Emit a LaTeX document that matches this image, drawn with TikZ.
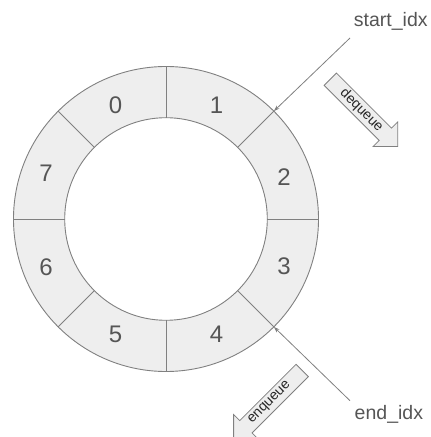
\documentclass[tikz,border=0pt]{standalone}
\usepackage{fontspec}
\setmainfont{Liberation Sans}
\usetikzlibrary{arrows.meta,calc}
\definecolor{ringfill}{HTML}{EEEEEE}
\definecolor{ringline}{HTML}{808080}
\definecolor{txt}{HTML}{555555}
\tikzset{
  x=1pt, y=1pt,
  ringedge/.style={draw=ringline, line width=0.9pt},
  digit/.style={text=txt, font=\fontsize{24}{26}\selectfont, inner sep=0pt},
  idxlabel/.style={text=txt, font=\fontsize{19.5}{22}\selectfont, inner sep=0pt, anchor=base},
  pointer/.style={draw=ringline, line width=0.8pt, -{Stealth[length=6pt,width=4pt]}},
  blockarrow/.style={draw=ringline, fill=ringfill, line width=0.8pt, line join=miter},
  arrowtext/.style={text=black!85, font=\fontsize{14}{16}\selectfont, inner sep=0pt}
}
\begin{document}
\begin{tikzpicture}
\useasboundingbox (0,0) rectangle (431,437);
\clip (0,0) rectangle (431,437);
\coordinate (c) at (166,218);
% ring
\fill[ringfill, even odd rule] (c) circle (152.5) (c) circle (101.3);
\draw[ringedge] (c) circle (152.5);
\draw[ringedge] (c) circle (101.3);
\foreach \a in {0,45,...,315}{
  \draw[ringedge] ($(c)+(\a:101.3)$) -- ($(c)+(\a:152.5)$);
}
% digits
\node[digit] (d0) at ($(c)+(-50.5,114)$) {0};
\node[digit] (d1) at ($(c)+(50.5,114)$) {1};
\node[digit] (d2) at ($(c)+(118,41.5)$) {2};
\node[digit] (d3) at ($(c)+(118,-47.5)$) {3};
\node[digit] (d4) at ($(c)+(50.5,-115)$) {4};
\node[digit] (d5) at ($(c)+(-50.5,-115)$) {5};
\node[digit] (d6) at ($(c)+(-120,-48.5)$) {6};
\node[digit] (d7) at ($(c)+(-120,46)$) {7};
% index labels and pointers
\node[idxlabel] (start) at (390.8,410.3) {start\_idx};
\node[idxlabel] (end) at (388.9,17) {end\_idx};
\coordinate (startfoot) at (350,399);
\coordinate (endfoot) at (350,36.3);
\coordinate (startpt) at ($(c)+(45:152.5)$);
\coordinate (endpt) at ($(c)+(-45:152.5)$);
\draw[pointer] (startfoot) -- (startpt);
\draw[pointer] (endfoot) -- (endpt);
% dequeue block arrow
\begin{scope}[shift={(330.3,357.8)}, rotate=-45]
  \draw[blockarrow] (0,8.7) -- (77.9,8.7) -- (77.9,17.4) -- (95.3,0) -- (77.9,-17.4) -- (77.9,-8.7) -- (0,-8.7) -- cycle;
  \node[arrowtext, rotate=-45] (deq) at (44,0) {dequeue};
\end{scope}
% enqueue block arrow
\begin{scope}[shift={(302.2,66.5)}, rotate=-135]
  \draw[blockarrow] (0,8.7) -- (79.6,8.7) -- (79.6,17.4) -- (97,0) -- (79.6,-17.4) -- (79.6,-8.7) -- (0,-8.7) -- cycle;
  \node[arrowtext, rotate=45] (enq) at (46,0) {enqueue};
\end{scope}
\end{tikzpicture}
\end{document}
